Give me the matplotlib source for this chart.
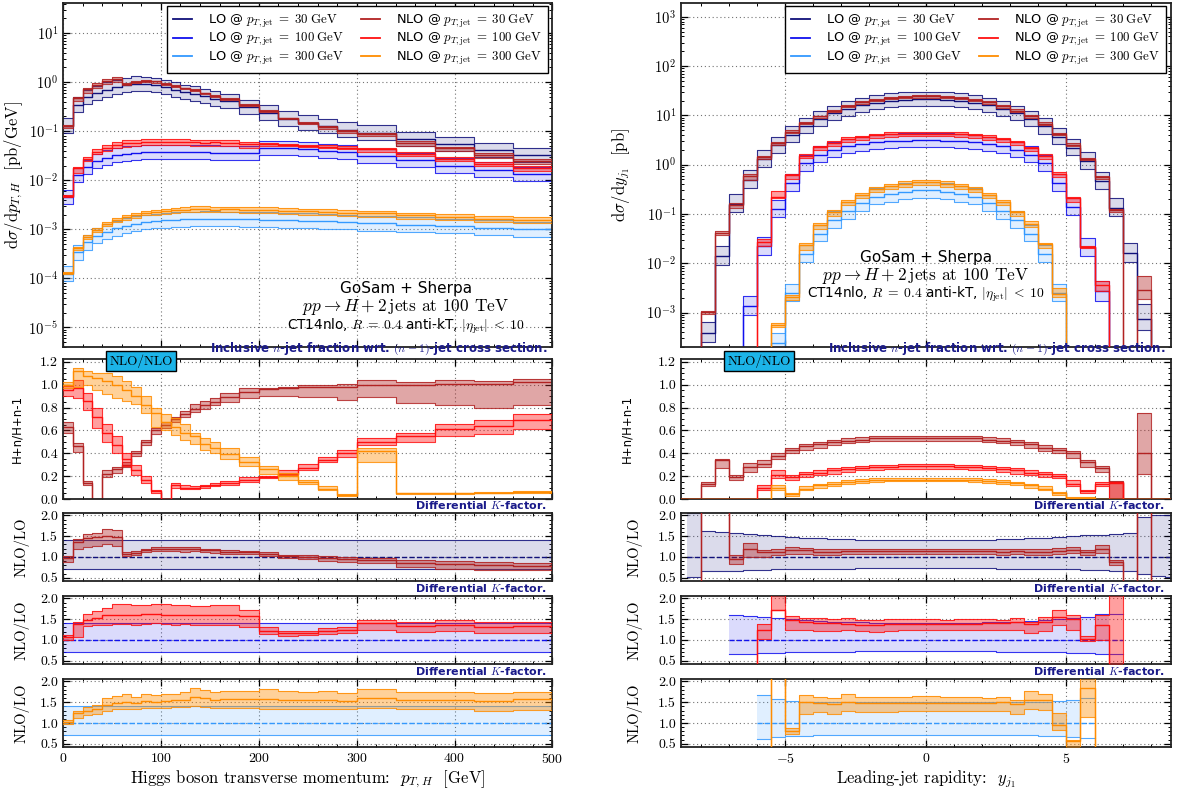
import numpy as np
import matplotlib
matplotlib.use('Agg')
import matplotlib.pyplot as plt
from matplotlib.lines import Line2D
from matplotlib.ticker import MultipleLocator, FormatStrFormatter

plt.rcParams['font.family'] = 'cmr10'
plt.rcParams['mathtext.fontset'] = 'cm'
plt.rcParams['axes.formatter.use_mathtext'] = True

SANS = 'DejaVu Sans'

# ---------------- left column: Higgs pT ----------------
pt_edges = [0, 10, 20, 30, 40, 50, 60, 70, 80, 90, 100, 110, 120, 130, 140, 150, 160,
            180, 200, 220, 240, 260, 280, 300, 340, 380, 420, 460, 500]

# LO central values [pb/GeV]
pt_lo30 = [0.13, 0.35, 0.49, 0.60, 0.70, 0.78, 0.86, 0.93, 0.92, 0.86, 0.78, 0.70, 0.63, 0.58,
           0.51, 0.46, 0.41, 0.31, 0.24, 0.18, 0.15, 0.125, 0.108, 0.094, 0.068, 0.054, 0.041, 0.032]
pt_lo100 = [0.0045, 0.013, 0.0185, 0.025, 0.029, 0.033, 0.035, 0.0365, 0.0375, 0.0378, 0.038, 0.038,
            0.0376, 0.0372, 0.037, 0.0366, 0.036, 0.0355, 0.0447, 0.046, 0.043, 0.040, 0.037, 0.031,
            0.026, 0.020, 0.0165, 0.0133]
pt_lo300 = [1.25e-4, 3.4e-4, 5.4e-4, 7.4e-4, 9.0e-4, 1.05e-3, 1.18e-3, 1.3e-3, 1.4e-3, 1.47e-3,
            1.53e-3, 1.57e-3, 1.6e-3, 1.62e-3, 1.63e-3, 1.63e-3, 1.62e-3, 1.6e-3, 1.57e-3, 1.53e-3,
            1.5e-3, 1.45e-3, 1.4e-3, 1.33e-3, 1.25e-3, 1.17e-3, 1.08e-3, 1.0e-3]
# LO scale band relative to LO central (down, up)
pt_lo30_band = (0.72, 1.41)
pt_lo100_band = (0.72, 1.40)
pt_lo300_band = (0.71, 1.42)

# differential K-factors NLO/LO: central, low, high
pt_k30 = [0.97, 1.35, 1.45, 1.48, 1.51, 1.48, 1.07, 1.10, 1.16, 1.20, 1.20, 1.20, 1.19, 1.20,
          1.16, 1.16, 1.12, 1.11, 1.08, 1.02, 1.00, 0.98, 0.95, 0.93, 0.86, 0.84, 0.80, 0.79]
pt_k30_lo = [0.88, 1.20, 1.25, 1.27, 1.30, 1.27, 1.02, 1.04, 1.11, 1.14, 1.14, 1.14, 1.13, 1.14,
             1.11, 1.10, 1.08, 1.06, 1.02, 0.98, 0.94, 0.90, 0.87, 0.85, 0.75, 0.72, 0.68, 0.68]
pt_k30_hi = [1.03, 1.43, 1.56, 1.57, 1.67, 1.64, 1.12, 1.14, 1.20, 1.24, 1.24, 1.23, 1.23, 1.25,
             1.20, 1.19, 1.16, 1.15, 1.12, 1.05, 1.04, 1.02, 0.99, 0.98, 0.93, 0.90, 0.87, 0.86]
pt_k100 = [1.06, 1.38, 1.49, 1.53, 1.59, 1.61, 1.61, 1.61, 1.63, 1.63, 1.61, 1.61, 1.61, 1.59,
           1.59, 1.61, 1.60, 1.57, 1.22, 1.16, 1.17, 1.21, 1.25, 1.40, 1.33, 1.37, 1.32, 1.33]
pt_k100_lo = [1.00, 1.08, 1.33, 1.35, 1.37, 1.39, 1.39, 1.37, 1.39, 1.40, 1.39, 1.37, 1.39, 1.35,
              1.35, 1.37, 1.37, 1.31, 1.14, 1.10, 1.12, 1.14, 1.17, 1.24, 1.19, 1.21, 1.17, 1.17]
pt_k100_hi = [1.12, 1.44, 1.63, 1.70, 1.78, 1.86, 1.86, 1.84, 1.84, 1.86, 1.86, 1.84, 1.84, 1.82,
              1.82, 1.84, 1.84, 1.73, 1.30, 1.22, 1.22, 1.28, 1.32, 1.48, 1.44, 1.48, 1.42, 1.44]
pt_k300 = [1.02, 1.24, 1.30, 1.34, 1.44, 1.49, 1.51, 1.48, 1.52, 1.51, 1.52, 1.55, 1.55, 1.63,
           1.59, 1.55, 1.57, 1.57, 1.57, 1.55, 1.55, 1.56, 1.53, 1.59, 1.55, 1.55, 1.52, 1.57]
pt_k300_lo = [0.97, 1.12, 1.18, 1.22, 1.30, 1.33, 1.34, 1.34, 1.37, 1.36, 1.36, 1.38, 1.38, 1.41,
              1.39, 1.37, 1.37, 1.37, 1.34, 1.33, 1.33, 1.34, 1.33, 1.36, 1.33, 1.33, 1.30, 1.32]
pt_k300_hi = [1.06, 1.29, 1.39, 1.43, 1.59, 1.66, 1.69, 1.63, 1.71, 1.67, 1.69, 1.71, 1.75, 1.84,
              1.80, 1.74, 1.78, 1.78, 1.81, 1.77, 1.74, 1.78, 1.73, 1.81, 1.75, 1.75, 1.73, 1.75]

# inclusive n-jet fractions (NLO/NLO)
pt_f30 = [0.63, 0.46, 0.14, 0.0, 0.22, 0.26, 0.30, 0.40, 0.50, 0.60, 0.65, 0.70, 0.74, 0.79,
          0.82, 0.85, 0.89, 0.94, 0.96, 0.97, 0.98, 0.98, 0.98, 1.00, 1.00, 1.01, 1.01, 1.02]
pt_f30_lo = [0.58, 0.41, 0.12, 0.0, 0.19, 0.23, 0.28, 0.38, 0.47, 0.57, 0.62, 0.67, 0.72, 0.76,
             0.79, 0.82, 0.85, 0.88, 0.90, 0.90, 0.89, 0.89, 0.87, 0.89, 0.84, 0.82, 0.80, 0.82]
pt_f30_hi = [0.67, 0.49, 0.16, 0.0, 0.25, 0.28, 0.32, 0.42, 0.52, 0.62, 0.67, 0.72, 0.77, 0.83,
             0.86, 0.88, 0.93, 0.97, 0.97, 0.98, 1.00, 1.00, 1.01, 1.04, 1.02, 1.04, 1.03, 1.05]
pt_f100 = [0.95, 0.97, 0.86, 0.72, 0.58, 0.47, 0.35, 0.25, 0.17, 0.07, 0.0, 0.12, 0.10, 0.10,
           0.11, 0.12, 0.14, 0.17, 0.19, 0.22, 0.27, 0.34, 0.40, 0.50, 0.55, 0.61, 0.64, 0.69]
pt_f100_lo = [0.90, 0.88, 0.78, 0.62, 0.50, 0.40, 0.29, 0.21, 0.14, 0.05, 0.0, 0.10, 0.09, 0.09,
              0.10, 0.11, 0.12, 0.15, 0.18, 0.21, 0.25, 0.32, 0.37, 0.47, 0.50, 0.55, 0.57, 0.61]
pt_f100_hi = [0.99, 1.04, 0.93, 0.80, 0.66, 0.55, 0.40, 0.30, 0.20, 0.08, 0.0, 0.14, 0.12, 0.11,
              0.12, 0.14, 0.16, 0.19, 0.20, 0.25, 0.31, 0.37, 0.43, 0.53, 0.58, 0.66, 0.69, 0.74]
pt_f300 = [1.00, 1.12, 1.08, 1.06, 1.03, 1.00, 0.95, 0.90, 0.82, 0.75, 0.67, 0.63, 0.58, 0.55,
           0.48, 0.45, 0.39, 0.32, 0.26, 0.20, 0.15, 0.09, 0.035, 0.42, 0.05, 0.05, 0.055, 0.06]
pt_f300_lo = [0.97, 0.98, 1.00, 0.95, 0.92, 0.88, 0.86, 0.83, 0.75, 0.63, 0.60, 0.56, 0.52, 0.48,
              0.43, 0.40, 0.35, 0.29, 0.22, 0.17, 0.13, 0.08, 0.03, 0.32, 0.045, 0.045, 0.05, 0.055]
pt_f300_hi = [1.02, 1.15, 1.12, 1.10, 1.10, 1.08, 1.03, 0.98, 0.90, 0.80, 0.74, 0.71, 0.66, 0.58,
              0.53, 0.50, 0.45, 0.37, 0.29, 0.23, 0.17, 0.11, 0.04, 0.45, 0.055, 0.055, 0.06, 0.07]

# ---------------- right column: leading-jet rapidity ----------------
y_edges = [-9.0, -8.5, -8.0, -7.5, -7.0, -6.5, -6.0, -5.5, -5.0, -4.5, -4.0, -3.5, -3.0, -2.5,
           -2.0, -1.5, -1.0, -0.5, 0.0, 0.5, 1.0, 1.5, 2.0, 2.5, 3.0, 3.5, 4.0, 4.5, 5.0, 5.5,
           6.0, 6.5, 7.0, 7.5, 8.0, 8.5, 9.0]
nan = np.nan

y_lo30 = [0, 5e-5, 3.9e-4, 0.014, 0.16, 0.49, 1.29, 2.45, 4.05, 6.05, 8.4, 11.0, 13.7, 16.1,
          18.1, 19.9, 20.9, 21.5, 21.5, 20.9, 19.9, 18.1, 16.1, 13.7, 11.0, 8.4, 6.0, 3.7,
          2.2, 1.17, 0.47, 0.135, 0.0165, 7.4e-4, 5e-5, 5e-5]
y_lo30_up = [nan, 2.05, 1.63, 1.60, 1.58, 1.56, 1.53, 1.51, 1.48, 1.46, 1.45, 1.44, 1.43, 1.42,
             1.41, 1.41, 1.40, 1.40, 1.40, 1.40, 1.41, 1.41, 1.42, 1.43, 1.44, 1.45, 1.46, 1.48,
             1.50, 1.52, 1.54, 1.56, 1.58, 1.97, 2.00, 2.00]
y_lo30_dn = [nan, 0.52, 0.66, 0.66, 0.67, 0.68, 0.69, 0.70, 0.71, 0.71, 0.72, 0.72, 0.72, 0.73,
             0.73, 0.73, 0.73, 0.73, 0.73, 0.73, 0.73, 0.73, 0.73, 0.72, 0.72, 0.72, 0.71, 0.71,
             0.70, 0.69, 0.68, 0.66, 0.65, 0.60, 0.53, 0.52]
y_lo100 = [0, 0, 0, 0, 5e-5, 1.35e-3, 0.022, 0.125, 0.42, 1.07, 1.6, 2.0, 2.35, 2.6, 2.85, 3.0,
           3.07, 3.1, 3.1, 3.07, 3.0, 2.85, 2.6, 2.35, 2.0, 1.6, 1.07, 0.42, 0.14, 0.021, 2.7e-3,
           5e-5, 0, 0, 0, 0]
y_lo100_up = [nan, nan, nan, nan, 1.60, 1.57, 1.55, 1.53, 1.51, 1.48, 1.46, 1.44, 1.43, 1.42,
              1.41, 1.40, 1.40, 1.40, 1.40, 1.40, 1.40, 1.41, 1.42, 1.43, 1.44, 1.46, 1.48, 1.51,
              1.53, 1.55, 1.62, 1.62, nan, nan, nan, nan]
y_lo100_dn = [nan, nan, nan, nan, 0.65, 0.67, 0.68, 0.69, 0.70, 0.71, 0.71, 0.72, 0.72, 0.73,
              0.73, 0.73, 0.73, 0.73, 0.73, 0.73, 0.73, 0.73, 0.73, 0.72, 0.72, 0.71, 0.71, 0.70,
              0.69, 0.68, 0.65, 0.65, nan, nan, nan, nan]
y_lo300 = [0, 0, 0, 0, 0, 0, 5e-5, 2.4e-4, 2.5e-3, 0.0155, 0.040, 0.075, 0.115, 0.165, 0.22,
           0.25, 0.28, 0.30, 0.30, 0.28, 0.25, 0.22, 0.165, 0.115, 0.075, 0.040, 0.0155, 2.5e-3,
           1e-4, 5e-5, 0, 0, 0, 0, 0, 0]
y_lo300_up = [nan, nan, nan, nan, nan, nan, 1.68, 1.58, 1.52, 1.51, 1.50, 1.50, 1.50, 1.50,
              1.50, 1.50, 1.50, 1.50, 1.50, 1.50, 1.50, 1.50, 1.50, 1.50, 1.50, 1.50, 1.51, 1.52,
              1.55, 1.60, nan, nan, nan, nan, nan, nan]
y_lo300_dn = [nan, nan, nan, nan, nan, nan, 0.62, 0.66, 0.68, 0.69, 0.70, 0.70, 0.70, 0.70,
              0.71, 0.71, 0.71, 0.71, 0.71, 0.71, 0.71, 0.71, 0.70, 0.70, 0.70, 0.70, 0.69, 0.68,
              0.65, 0.64, nan, nan, nan, nan, nan, nan]

y_k30 = [0, 0, 2.6, 3.0, 0.96, 1.18, 1.12, 1.13, 1.16, 1.16, 1.13, 1.13, 1.14, 1.14, 1.14, 1.15,
         1.15, 1.15, 1.15, 1.15, 1.15, 1.14, 1.14, 1.13, 1.14, 1.13, 1.13, 1.14, 1.16, 1.12, 1.20,
         0.88, 0, 3.9, 0, 0]
y_k30_lo = [0, 0, 2.4, 2.7, 0.82, 1.00, 1.00, 1.04, 1.08, 1.08, 1.05, 1.05, 1.06, 1.06, 1.06,
            1.07, 1.07, 1.07, 1.07, 1.07, 1.07, 1.06, 1.06, 1.05, 1.06, 1.04, 1.04, 1.06, 1.10,
            1.04, 1.10, 0.80, 0, 2.6, 0, 0]
y_k30_hi = [0, 0, 2.8, 3.2, 1.05, 1.33, 1.17, 1.18, 1.23, 1.21, 1.18, 1.18, 1.19, 1.19, 1.19,
            1.20, 1.20, 1.20, 1.20, 1.20, 1.20, 1.19, 1.19, 1.18, 1.20, 1.19, 1.20, 1.21, 1.25,
            1.17, 1.28, 0.93, 0, 7.6, 0, 0]
y_k100 = [0, 0, 0, 0, 0, 0, 1.25, 1.73, 1.48, 1.42, 1.40, 1.40, 1.38, 1.37, 1.37, 1.38, 1.38,
          1.38, 1.38, 1.38, 1.38, 1.39, 1.40, 1.40, 1.42, 1.38, 1.42, 1.55, 1.50, 1.03, 1.36, 0,
          0, 0, 0, 0]
y_k100_lo = [0, 0, 0, 0, 0, 0, 1.03, 1.72, 1.24, 1.25, 1.22, 1.22, 1.24, 1.22, 1.20, 1.22, 1.24,
             1.24, 1.24, 1.24, 1.24, 1.24, 1.24, 1.25, 1.24, 1.17, 1.22, 1.35, 1.25, 0.97, 1.00, 0,
             0, 0, 0, 0]
y_k100_hi = [0, 0, 0, 0, 0, 0, 1.39, 2.30, 1.57, 1.53, 1.52, 1.50, 1.52, 1.48, 1.49, 1.50, 1.50,
             1.50, 1.50, 1.49, 1.50, 1.50, 1.51, 1.49, 1.53, 1.43, 1.55, 1.72, 1.60, 1.09, 1.60,
             2.50, 0, 0, 0, 0]
y_k300 = [0, 0, 0, 0, 0, 0, 0, 2.3, 0.81, 1.50, 1.47, 1.45, 1.51, 1.48, 1.48, 1.48, 1.48, 1.49,
          1.49, 1.48, 1.48, 1.49, 1.48, 1.50, 1.45, 1.55, 1.55, 0.95, 0.57, 1.84, 0, 0, 0, 0, 0, 0]
y_k300_lo = [0, 0, 0, 0, 0, 0, 0, 2.1, 0.73, 1.22, 1.26, 1.22, 1.30, 1.26, 1.26, 1.27, 1.28,
             1.28, 1.28, 1.28, 1.28, 1.29, 1.28, 1.30, 1.21, 1.33, 1.32, 0.82, 0.30, 1.15, 0, 0,
             0, 0, 0, 0]
y_k300_hi = [0, 0, 0, 0, 0, 0, 0, 2.5, 0.89, 1.67, 1.63, 1.59, 1.69, 1.63, 1.63, 1.63, 1.63,
             1.64, 1.64, 1.63, 1.62, 1.62, 1.60, 1.63, 1.55, 1.77, 1.70, 1.25, 0.60, 2.10, 0, 0,
             0, 0, 0, 0]

y_f30 = [0, 0, 0.13, 0.34, 0.19, 0.28, 0.31, 0.38, 0.43, 0.46, 0.48, 0.50, 0.51, 0.52, 0.53,
         0.53, 0.53, 0.53, 0.53, 0.53, 0.53, 0.53, 0.52, 0.51, 0.50, 0.48, 0.45, 0.43, 0.40, 0.32,
         0.27, 0.15, 0, 0.40, 0, 0]
y_f30_lo = [0, 0, 0.11, 0.27, 0.165, 0.24, 0.28, 0.35, 0.40, 0.43, 0.45, 0.47, 0.49, 0.50, 0.51,
            0.51, 0.51, 0.51, 0.51, 0.51, 0.51, 0.51, 0.50, 0.49, 0.47, 0.45, 0.42, 0.40, 0.36,
            0.28, 0.24, 0.0, 0, 0.22, 0, 0]
y_f30_hi = [0, 0, 0.15, 0.35, 0.21, 0.315, 0.34, 0.40, 0.45, 0.48, 0.50, 0.52, 0.53, 0.54, 0.55,
            0.55, 0.55, 0.55, 0.55, 0.55, 0.55, 0.55, 0.54, 0.53, 0.52, 0.50, 0.47, 0.45, 0.42,
            0.34, 0.29, 0.16, 0, 0.75, 0, 0]
y_f100 = [0, 0, 0, 0, 0, 0, 0.10, 0.21, 0.19, 0.22, 0.23, 0.25, 0.26, 0.27, 0.28, 0.28, 0.29,
          0.29, 0.29, 0.29, 0.28, 0.28, 0.27, 0.26, 0.25, 0.23, 0.22, 0.20, 0.13, 0.07, 0.13, 0.14,
          0, 0, 0, 0]
y_f100_lo = [0, 0, 0, 0, 0, 0, 0.08, 0.18, 0.165, 0.19, 0.21, 0.22, 0.24, 0.25, 0.25, 0.26,
             0.26, 0.26, 0.26, 0.26, 0.26, 0.25, 0.25, 0.24, 0.22, 0.21, 0.19, 0.18, 0.11, 0.05,
             0.11, 0.0, 0, 0, 0, 0]
y_f100_hi = [0, 0, 0, 0, 0, 0, 0.12, 0.25, 0.21, 0.24, 0.25, 0.27, 0.28, 0.29, 0.30, 0.30, 0.31,
             0.31, 0.31, 0.31, 0.30, 0.30, 0.29, 0.28, 0.27, 0.25, 0.24, 0.22, 0.165, 0.08, 0.15,
             0.15, 0, 0, 0, 0]
y_f300 = [0, 0, 0, 0, 0, 0, 0, 0.10, 0.04, 0.09, 0.12, 0.13, 0.15, 0.16, 0.165, 0.17, 0.17,
          0.17, 0.17, 0.17, 0.17, 0.165, 0.16, 0.15, 0.14, 0.12, 0.09, 0.05, 0.01, 0.01,
          0, 0, 0, 0, 0, 0]
y_f300_lo = [0, 0, 0, 0, 0, 0, 0, 0.08, 0.03, 0.08, 0.10, 0.11, 0.13, 0.14, 0.15, 0.155, 0.155,
             0.155, 0.155, 0.155, 0.155, 0.15, 0.14, 0.13, 0.12, 0.10, 0.08, 0.035, 0.005, 0.005,
             0, 0, 0, 0, 0, 0]
y_f300_hi = [0, 0, 0, 0, 0, 0, 0, 0.12, 0.05, 0.11, 0.135, 0.15, 0.17, 0.175, 0.18, 0.185, 0.185,
             0.185, 0.185, 0.185, 0.185, 0.18, 0.175, 0.17, 0.15, 0.135, 0.11, 0.06, 0.015, 0.015,
             0, 0, 0, 0, 0, 0]

lo_cols = ['#10107a', '#1010ee', '#3399ff']
nlo_cols = ['#b22222', '#ff1010', '#ff8c00']
jet_cuts = [30, 100, 300]
labels_lo = [r'LO @ $p_{T,\mathrm{jet}}\;=\;%d\;\mathrm{GeV}$' % v for v in jet_cuts]
labels_nlo = [r'NLO @ $p_{T,\mathrm{jet}}\;=\;%d\;\mathrm{GeV}$' % v for v in jet_cuts]
NAVY = '#1a1a8a'


def st(v):
    v = np.asarray(v, dtype=float)
    return np.append(v, v[-1])


def band(ax, edges, c, lo, hi, color, alpha, lw=1.0, ls='-', z=2):
    ax.fill_between(edges, st(lo), st(hi), step='post', color=color, alpha=alpha, lw=0, zorder=z)
    ax.step(edges, st(lo), where='post', color=color, lw=lw * 0.8, alpha=0.85, zorder=z + 0.1)
    ax.step(edges, st(hi), where='post', color=color, lw=lw * 0.8, alpha=0.85, zorder=z + 0.1)
    ax.step(edges, st(c), where='post', color=color, lw=lw, ls=ls, zorder=z + 0.2)


def style(ax, xmaj, xmin, ymaj=None, ymin=None, size=10.5):
    ax.tick_params(which='both', direction='in', top=True, right=True, labelsize=size)
    ax.tick_params(which='major', length=5, width=0.9)
    ax.tick_params(which='minor', length=2.5, width=0.7)
    ax.xaxis.set_major_locator(MultipleLocator(xmaj))
    ax.xaxis.set_minor_locator(MultipleLocator(xmin))
    if ymaj is not None:
        ax.yaxis.set_major_locator(MultipleLocator(ymaj))
        ax.yaxis.set_minor_locator(MultipleLocator(ymin))
        ax.yaxis.set_major_formatter(FormatStrFormatter('%.1f'))
    for s in ax.spines.values():
        s.set_linewidth(1.3)
        s.set_color('#222222')
    ax.grid(True, which='major', ls=(0, (1, 2.5)), color='0.45', lw=0.8)


fig = plt.figure(figsize=(11.79, 7.91), dpi=100)

columns = [
    dict(x0=0.0534, edges=pt_edges, xlim=(0, 500), xmaj=100, xmin=20,
         lo=[pt_lo30, pt_lo100, pt_lo300],
         dn=[np.full(len(pt_lo30), b[0]) for b in (pt_lo30_band, pt_lo100_band, pt_lo300_band)],
         up=[np.full(len(pt_lo30), b[1]) for b in (pt_lo30_band, pt_lo100_band, pt_lo300_band)],
         k=[(pt_k30, pt_k30_lo, pt_k30_hi), (pt_k100, pt_k100_lo, pt_k100_hi),
            (pt_k300, pt_k300_lo, pt_k300_hi)],
         f=[(pt_f30, pt_f30_lo, pt_f30_hi), (pt_f100, pt_f100_lo, pt_f100_hi),
            (pt_f300, pt_f300_lo, pt_f300_hi)],
         ylim=(4e-6, 41), ylabel=r'$\mathrm{d}\sigma/\mathrm{d}p_{T,H}$  [pb/GeV]',
         xlabel=r'Higgs boson transverse momentum:  $p_{T,H}$  [GeV]',
         text_xy=(0.70, 0.169), ylab_x=(-0.078, -0.080, -0.068)),
    dict(x0=0.5776, edges=y_edges, xlim=(-8.7, 8.7), xmaj=5, xmin=1,
         lo=[y_lo30, y_lo100, y_lo300],
         dn=[y_lo30_dn, y_lo100_dn, y_lo300_dn],
         up=[y_lo30_up, y_lo100_up, y_lo300_up],
         k=[(y_k30, y_k30_lo, y_k30_hi), (y_k100, y_k100_lo, y_k100_hi),
            (y_k300, y_k300_lo, y_k300_hi)],
         f=[(y_f30, y_f30_lo, y_f30_hi), (y_f100, y_f100_lo, y_f100_hi),
            (y_f300, y_f300_lo, y_f300_hi)],
         ylim=(2e-4, 1900), ylabel=r'$\mathrm{d}\sigma/\mathrm{d}y_{j_1}$  [pb]',
         xlabel=r'Leading-jet rapidity:  $y_{j_1}$',
         text_xy=(0.50, 0.26), ylab_x=(-0.100, -0.098, -0.078)),
]

W = 0.4152
for col in columns:
    e = np.asarray(col['edges'], dtype=float)
    ax_main = fig.add_axes([col['x0'], 0.5613, W, 0.4349])
    ax_frac = fig.add_axes([col['x0'], 0.3692, W, 0.1770], sharex=ax_main)
    ax_k = [fig.add_axes([col['x0'], y0, W, 0.0860], sharex=ax_main)
            for y0 in (0.2655, 0.1606, 0.0556)]

    # main panel
    for i in range(3):
        c = np.asarray(col['lo'][i], dtype=float)
        dn = c * np.asarray(col['dn'][i], dtype=float)
        up = c * np.asarray(col['up'][i], dtype=float)
        band(ax_main, e, c, dn, up, lo_cols[i], 0.15)
    for i in range(3):
        c = np.asarray(col['lo'][i], dtype=float)
        kc, kl, kh = [np.asarray(v, dtype=float) for v in col['k'][i]]
        band(ax_main, e, c * kc, c * kl, c * kh, nlo_cols[i], 0.4, z=3)
    ax_main.set_yscale('log')
    ax_main.set_ylim(*col['ylim'])
    ax_main.set_xlim(*col['xlim'])
    style(ax_main, col['xmaj'], col['xmin'])
    ax_main.tick_params(labelbottom=False)
    ax_main.set_ylabel(col['ylabel'], fontsize=12)
    ax_main.yaxis.set_label_coords(col['ylab_x'][0], 0.5)

    handles = [Line2D([], [], color=lo_cols[i], lw=1.3) for i in range(3)] + \
              [Line2D([], [], color=nlo_cols[i], lw=1.3) for i in range(3)]
    leg = ax_main.legend(handles, labels_lo + labels_nlo, ncol=2, loc='upper right',
                         bbox_to_anchor=(0.99, 0.99), frameon=True, fancybox=False,
                         edgecolor='black', framealpha=1, handlelength=1.5,
                         handletextpad=1.2, columnspacing=1.3, labelspacing=0.1,
                         borderpad=0.5, borderaxespad=0.0, prop={'family': SANS, 'size': 9.3})
    leg.get_frame().set_linewidth(1.0)

    tx, ty = col['text_xy']
    ax_main.text(tx, ty, 'GoSam + Sherpa', transform=ax_main.transAxes, ha='center',
                 va='center', fontsize=11, family=SANS)
    ax_main.text(tx, ty - 0.053, r'$pp \to H + 2\,$jets at 100 TeV', transform=ax_main.transAxes,
                 ha='center', va='center', fontsize=12.5)
    ax_main.text(tx, ty - 0.108, r'CT14nlo, $R\;=\;0.4$ anti-kT, $|\eta_{\mathrm{jet}}|\;<\;10$',
                 transform=ax_main.transAxes, ha='center', va='center', fontsize=9.8, family=SANS)

    # n-jet fraction panel
    for i in range(3):
        fc, fl, fh = col['f'][i]
        band(ax_frac, e, fc, fl, fh, nlo_cols[i], 0.4, z=2 + i)
    ax_frac.set_ylim(0, 1.225)
    style(ax_frac, col['xmaj'], col['xmin'], 0.2, 0.05, size=10)
    ax_frac.tick_params(labelbottom=False)
    ax_frac.set_ylabel('H+n/H+n-1', fontsize=8.5, family=SANS)
    ax_frac.yaxis.set_label_coords(col['ylab_x'][1], 0.5)
    ax_frac.text(0.99, 1.012, r'Inclusive $n$-jet fraction wrt. $(n-1)$-jet cross section.',
                 transform=ax_frac.transAxes, ha='right', va='bottom', fontsize=8.5,
                 family=SANS, weight='bold', color=NAVY)
    ax_frac.text(0.16, 0.985, 'NLO/NLO', transform=ax_frac.transAxes, ha='center', va='center',
                 fontsize=9.5, zorder=10, clip_on=False,
                 bbox=dict(boxstyle='square,pad=0.25', fc='#1cb4e8', ec='black', lw=1.0))

    # K-factor panels
    for i, ax in enumerate(ax_k):
        up = np.asarray(col['up'][i], dtype=float)
        dn = np.asarray(col['dn'][i], dtype=float)
        ones = np.where(np.isnan(up), np.nan, 1.0)
        band(ax, e, ones, dn, up, lo_cols[i], 0.15, ls='--')
        kc, kl, kh = col['k'][i]
        band(ax, e, kc, kl, kh, nlo_cols[i], 0.4, z=3)
        ax.set_ylim(0.42, 2.06)
        style(ax, col['xmaj'], col['xmin'], 0.5, 0.1, size=10)
        ax.set_ylabel('NLO/LO', fontsize=10.5)
        ax.yaxis.set_label_coords(col['ylab_x'][2], 0.5)
        ax.text(0.99, 1.03, r'Differential $K$-factor.', transform=ax.transAxes, ha='right',
                va='bottom', fontsize=8, family=SANS, weight='bold', color=NAVY)
        if i < 2:
            ax.tick_params(labelbottom=False)
    ax_k[2].set_xlabel(col['xlabel'], fontsize=12, labelpad=2)
    ax_k[2].set_xlim(*col['xlim'])

fig.savefig('out.png', dpi=100)
